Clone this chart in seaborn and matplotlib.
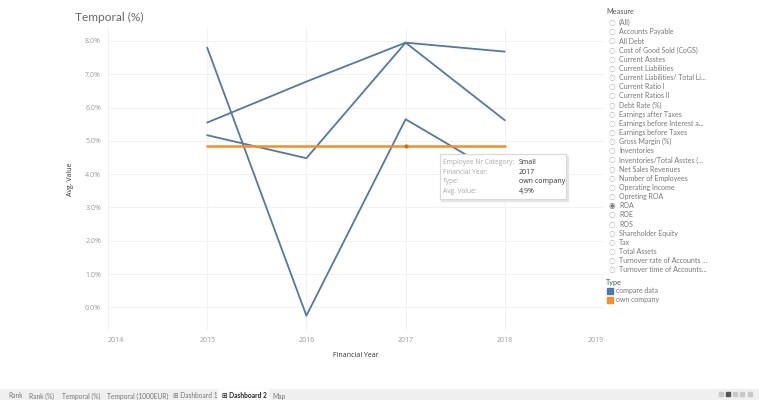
import numpy as np
import pandas as pd
import matplotlib
matplotlib.use('Agg')
import matplotlib.pyplot as plt
import matplotlib.patches as mpatches
import seaborn as sns

# data (Avg. Value in %)
years = [2015, 2016, 2017, 2018]
compare_a = [7.80, -0.25, 5.65, 3.90]
compare_b = [5.55, 6.78, 7.95, 7.68]
compare_c = [5.17, 4.48, 7.95, 5.62]
own_company = [4.86, 4.86, 4.86, 4.86]

measures = ['(All)', 'Accounts Payable', 'All Debt', 'Cost of Good Sold (CoGS)',
            'Current Asstes', 'Current Liabilities', 'Current Liabilities/ Total Li...',
            'Current Ratio I', 'Current Ratios II', 'Debt Rate (%)',
            'Earnings after Taxes', 'Earnings before Interest a...',
            'Earnings before Taxes', 'Gross Margin (%)', 'Inventories',
            'Inventories/Total Asstes (...', 'Net Sales Revenues',
            'Number of Employees', 'Operating Income', 'Opreting ROA', 'ROA',
            'ROE', 'ROS', 'Shareholder Equity', 'Tax', 'Total Assets',
            'Turnover rate of Accounts ...', 'Turnover time of Accounts...']
selected = 'ROA'
tabs = ['Rank', 'Rank (%)', 'Temporal (%)', 'Temporal (1000EUR)',
        '\u229e Dashboard 1', '\u229e Dashboard 2', 'Map']
tab_x = [8, 29, 62, 107, 173, 222, 272]

rows = []
for name, vals, typ in [('a', compare_a, 'compare data'), ('b', compare_b, 'compare data'),
                        ('c', compare_c, 'compare data'), ('own', own_company, 'own company')]:
    for y, v in zip(years, vals):
        rows.append({'Financial Year': y, 'Avg. Value': v, 'series': name, 'Type': typ})
df = pd.DataFrame(rows)

sns.set_style('white')
plt.rcParams['font.family'] = ['Lato', 'DejaVu Sans']
num_font = ['Open Sans', 'DejaVu Sans']

blue = '#4e79a7'
orange = '#f28e2b'
W, H = 759, 400
fig = plt.figure(figsize=(W / 100, H / 100), dpi=100)
ax = fig.add_axes([108 / W, 1 - 330 / H, (604 - 108) / W, (330 - 28) / H])

sns.lineplot(data=df[df['Type'] == 'compare data'], x='Financial Year', y='Avg. Value',
             units='series', estimator=None, color='#56789f', lw=1.3, ax=ax, legend=False)
sns.lineplot(data=df[df['Type'] == 'own company'], x='Financial Year', y='Avg. Value',
             color=orange, lw=1.8, ax=ax, legend=False, zorder=3)
ax.plot([2017], [own_company[2]], marker='o', ms=2, color='#c9711f', zorder=4)

ax.set_xlim(2014, 2019)
ax.set_ylim(-0.68, 8.39)
ax.set_yticks(np.arange(0, 9))
ax.set_yticklabels([f'{v:.1f}%' for v in range(0, 9)], family=num_font)
ax.set_xticks(range(2014, 2020))
ax.set_xticklabels([str(y) for y in range(2014, 2020)], family=num_font)
for lbl, ha in zip(ax.get_xticklabels(), ['left', 'center', 'center', 'center', 'center', 'right']):
    lbl.set_ha(ha)
ax.tick_params(length=0, labelsize=5, labelcolor='#9a9a9a', pad=5)
ax.grid(True, color='#f2f2f2', lw=0.8)
for s in ax.spines.values():
    s.set_visible(False)
ax.set_xlabel('Financial Year', fontsize=5, color='#333333', labelpad=6, family=num_font)
ax.set_ylabel('Avg. Value', fontsize=5, color='#333333', labelpad=8, family=num_font)

# tooltip
tip = fig.add_axes([440 / W, 1 - 199 / H, 126 / W, 45 / H])
tip.set_xticks([])
tip.set_yticks([])
tip.set_facecolor('white')
for s in tip.spines.values():
    s.set_color('#d8d8d8')
    s.set_linewidth(0.8)
shadow = mpatches.Rectangle((441 / W, 1 - 201 / H), 127 / W, 45 / H, transform=fig.transFigure,
                            color='#e6e6e6', zorder=1)
fig.patches.append(shadow)
tip.set_zorder(5)
tip_labels = ['Employee Nr Category:', 'Financial Year:', 'Type:', 'Avg. Value:']
tip_values = ['Small', '2017', 'own company', '4,9%']
for i, (l, v) in enumerate(zip(tip_labels, tip_values)):
    yy = 1 - (163 + 9.4 * i) / H
    fig.text(443 / W, yy, l, fontsize=4.8, color='#a8a8a8', va='center', zorder=6,
             family=num_font)
    fig.text(519 / W, yy, v, fontsize=5.0, color='#333333', va='center', zorder=6,
             family=num_font)

# title
fig.text(75 / W, 1 - 17 / H, 'Temporal (%)', fontsize=8.6, color='#666666', va='center')

# measure filter
fig.text(606 / W, 1 - 12 / H, 'Measure', fontsize=5.2, color='#555555', va='center')
for i, m in enumerate(measures):
    yy = 1 - (22.7 + 9.15 * i) / H
    mark = '\u25c9' if m == selected else '\u25cb'
    fig.text(609 / W, yy, mark, fontsize=5.5, color='#b5b5b5' if m != selected else '#777777',
             va='center', family='DejaVu Sans')
    fig.text(619 / W, yy, m, fontsize=5.0, color='#777777', va='center')

# type legend
fig.text(606 / W, 1 - 282 / H, 'Type', fontsize=5.2, color='#555555', va='center')
for i, (lab, c) in enumerate([('compare data', blue), ('own company', orange)]):
    yy = 1 - (291 + 8.5 * i) / H
    fig.patches.append(mpatches.Rectangle((607 / W, yy - 3 / H), 6 / W, 6 / H,
                                          transform=fig.transFigure, color=c))
    fig.text(616 / W, yy, lab, fontsize=5.0, color='#777777', va='center')

# bottom tab bar
fig.patches.append(mpatches.Rectangle((0, 0), 1, 11 / H, transform=fig.transFigure,
                                      color='#efefef', zorder=0))
fig.patches.append(mpatches.Rectangle((218 / W, 0), 50 / W, 11 / H, transform=fig.transFigure,
                                      color='white', zorder=0))
for t, x in zip(tabs, tab_x):
    fig.text(x / W, 1 - 396 / H, t, fontsize=4.8, va='center',
             color='#222222' if t.endswith('2') else '#777777',
             weight='bold' if t.endswith('2') else 'normal')
for i, x in enumerate([719, 726, 733, 740, 748]):
    fig.patches.append(mpatches.Rectangle((x / W, 4 / H), 4 / W, 4 / H, transform=fig.transFigure,
                                          color='#555555' if i == 1 else '#c8c8c8'))

fig.savefig('out.png', dpi=100)
